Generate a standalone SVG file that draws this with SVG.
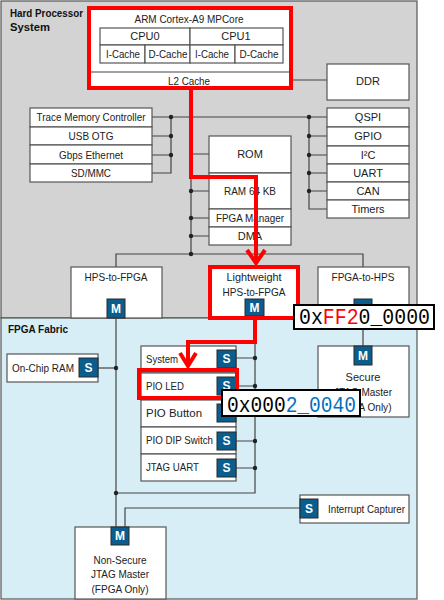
<svg xmlns="http://www.w3.org/2000/svg" width="444" height="600" viewBox="0 0 444 600">
<style>
.box{fill:#fff;stroke:#555;stroke-width:1.2}
.t{font-family:"Liberation Sans",Arial,sans-serif;font-size:11px;fill:#222}
.c{text-anchor:middle}
.b{font-weight:bold;fill:#111}
.ms{fill:#0a5d8d;stroke:#2a2a2a;stroke-width:1}
.mt{font-family:"Liberation Sans",Arial,sans-serif;font-size:12px;font-weight:bold;fill:#fff;text-anchor:middle}
.ln{stroke:#444;stroke-width:1.2;fill:none}
.red{stroke:#f00;stroke-width:4;fill:none}
.dot{fill:#222}
.big{font-family:"Liberation Mono","DejaVu Sans Mono",monospace;font-size:22px;fill:#000}
</style>
<!-- regions -->
<rect x="1" y="1" width="416" height="317" fill="#d3d3d3" stroke="#555" stroke-width="1.2"/>
<rect x="1" y="318" width="416" height="281" fill="#d8eef6" stroke="#555" stroke-width="1.2"/>
<text class="t b" x="10" y="17" textLength="73" lengthAdjust="spacingAndGlyphs">Hard Processor</text>
<text class="t b" x="10" y="31" textLength="40" lengthAdjust="spacingAndGlyphs">System</text>
<text class="t b" x="8" y="333" textLength="60" lengthAdjust="spacingAndGlyphs">FPGA Fabric</text>

<g id="connectors">
<path class="ln" d="M290,80 H327"/>
<path class="ln" d="M152,117 H327"/>
<path class="ln" d="M152,136 H171 M152,155 H171 M152,173 H171 V117"/>
<path class="ln" d="M327,136 H309 M327,155 H309 M327,173 H309 M327,191 H309 M327,209 H309 V117"/>
<path class="ln" d="M191,117 V254 M191,154 H209 M191,191 H209 M191,218 H209 M191,236 H209"/>
<path class="ln" d="M116,267 V254 H363 V267"/>
<path class="ln" d="M363,318 V346"/>
<path class="ln" d="M116,318 V527"/>
<path class="ln" d="M98,368 H116"/>
<path class="ln" d="M255,318 V493 H116"/>
<path class="ln" d="M236,358 H255 M236,386 H255 M236,413 H255 M236,441 H255 M236,468 H255"/>
<path class="ln" d="M125,527 V508 H300"/>
<circle class="dot" cx="171" cy="117" r="2.2"/>
<circle class="dot" cx="171" cy="136" r="2.2"/>
<circle class="dot" cx="171" cy="155" r="2.2"/>
<circle class="dot" cx="191" cy="117" r="2.2"/>
<circle class="dot" cx="309" cy="117" r="2.2"/>
<circle class="dot" cx="309" cy="136" r="2.2"/>
<circle class="dot" cx="309" cy="155" r="2.2"/>
<circle class="dot" cx="309" cy="173" r="2.2"/>
<circle class="dot" cx="309" cy="191" r="2.2"/>
<circle class="dot" cx="191" cy="191" r="2.2"/>
<circle class="dot" cx="191" cy="218" r="2.2"/>
<circle class="dot" cx="191" cy="236" r="2.2"/>
<circle class="dot" cx="191" cy="254" r="2.2"/>
<circle class="dot" cx="116" cy="368" r="2.2"/>
<circle class="dot" cx="116" cy="493" r="2.2"/>
<circle class="dot" cx="255" cy="358" r="2.2"/>
<circle class="dot" cx="255" cy="386" r="2.2"/>
<circle class="dot" cx="255" cy="413" r="2.2"/>
<circle class="dot" cx="255" cy="441" r="2.2"/>
<circle class="dot" cx="255" cy="468" r="2.2"/>
</g>

<g id="arm">
<rect class="box" x="89" y="8" width="202" height="80"/>
<text class="t c" x="189" y="23" textLength="109" lengthAdjust="spacingAndGlyphs">ARM Cortex-A9 MPCore</text>
<rect class="box" x="100" y="28" width="90" height="17"/>
<rect class="box" x="190" y="28" width="93" height="17"/>
<rect class="box" x="100" y="45" width="45" height="18"/>
<rect class="box" x="145" y="45" width="45" height="18"/>
<rect class="box" x="190" y="45" width="45" height="18"/>
<rect class="box" x="235" y="45" width="48" height="18"/>
<text class="t c" x="145" y="40">CPU0</text>
<text class="t c" x="236" y="40">CPU1</text>
<text class="t c" x="123" y="58" textLength="34" lengthAdjust="spacingAndGlyphs">I-Cache</text>
<text class="t c" x="168" y="58" textLength="39" lengthAdjust="spacingAndGlyphs">D-Cache</text>
<text class="t c" x="212" y="58" textLength="34" lengthAdjust="spacingAndGlyphs">I-Cache</text>
<text class="t c" x="259" y="58" textLength="39" lengthAdjust="spacingAndGlyphs">D-Cache</text>
<path class="ln" d="M90,72 H290" stroke="#777"/>
<text class="t c" x="189" y="85" textLength="42" lengthAdjust="spacingAndGlyphs">L2 Cache</text>
</g>

<g id="ddr">
<rect class="box" x="327" y="64" width="82" height="36"/>
<text class="t c" x="368" y="85">DDR</text>
</g>

<g id="left-periph">
<rect class="box" x="30" y="108" width="122" height="19"/>
<rect class="box" x="30" y="127" width="122" height="18"/>
<rect class="box" x="30" y="145" width="122" height="19"/>
<rect class="box" x="30" y="164" width="122" height="18"/>
<text class="t c" x="91" y="121" textLength="109" lengthAdjust="spacingAndGlyphs">Trace Memory Controller</text>
<text class="t c" x="91" y="140" textLength="45" lengthAdjust="spacingAndGlyphs">USB OTG</text>
<text class="t c" x="91" y="159" textLength="64" lengthAdjust="spacingAndGlyphs">Gbps Ethernet</text>
<text class="t c" x="91" y="177" textLength="40" lengthAdjust="spacingAndGlyphs">SD/MMC</text>
</g>

<g id="right-periph">
<rect class="box" x="327" y="108" width="82" height="19"/>
<rect class="box" x="327" y="127" width="82" height="19"/>
<rect class="box" x="327" y="146" width="82" height="18"/>
<rect class="box" x="327" y="164" width="82" height="18"/>
<rect class="box" x="327" y="182" width="82" height="18"/>
<rect class="box" x="327" y="200" width="82" height="18"/>
<text class="t c" x="368" y="121">QSPI</text>
<text class="t c" x="368" y="140">GPIO</text>
<text class="t c" x="368" y="159">I²C</text>
<text class="t c" x="368" y="177">UART</text>
<text class="t c" x="368" y="195">CAN</text>
<text class="t c" x="368" y="213">Timers</text>
</g>

<g id="onchip">
<rect class="box" x="209" y="136" width="82" height="37"/>
<rect class="box" x="209" y="173" width="82" height="36"/>
<rect class="box" x="209" y="209" width="82" height="18"/>
<rect class="box" x="209" y="227" width="82" height="18"/>
<text class="t c" x="250" y="158">ROM</text>
<text class="t c" x="250" y="195" textLength="52" lengthAdjust="spacingAndGlyphs">RAM 64 KB</text>
<text class="t c" x="250" y="222" textLength="68" lengthAdjust="spacingAndGlyphs">FPGA Manager</text>
<text class="t c" x="250" y="240">DMA</text>
</g>

<g id="hps2fpga">
<rect class="box" x="71" y="267" width="91" height="51"/>
<text class="t c" x="116" y="281" textLength="63" lengthAdjust="spacingAndGlyphs">HPS-to-FPGA</text>
<rect class="ms" x="107" y="299" width="18" height="19"/>
<text class="mt" x="116" y="313">M</text>
</g>

<g id="lw">
<rect class="box" x="210" y="267" width="88" height="51"/>
<text class="t c" x="254" y="281" textLength="55" lengthAdjust="spacingAndGlyphs">Lightweight</text>
<text class="t c" x="254" y="296" textLength="63" lengthAdjust="spacingAndGlyphs">HPS-to-FPGA</text>
<rect class="ms" x="245" y="299" width="19" height="17"/>
<text class="mt" x="254.5" y="312">M</text>
</g>

<g id="fpga2hps">
<rect class="box" x="318" y="267" width="91" height="51"/>
<text class="t c" x="363" y="281" textLength="63" lengthAdjust="spacingAndGlyphs">FPGA-to-HPS</text>
<rect class="ms" x="354" y="299" width="18" height="19"/>
</g>

<g id="secure">
<rect class="box" x="318" y="346" width="91" height="71"/>
<rect class="ms" x="354" y="346" width="18" height="19"/>
<text class="mt" x="363" y="360">M</text>
<text class="t c" x="363" y="381">Secure</text>
<text class="t c" x="363" y="396" textLength="58" lengthAdjust="spacingAndGlyphs">JTAG Master</text>
<text class="t c" x="363" y="411" textLength="57" lengthAdjust="spacingAndGlyphs">(FPGA Only)</text>
</g>

<g id="onchipram">
<rect class="box" x="7" y="354" width="91" height="28"/>
<text class="t" x="12" y="372" textLength="62" lengthAdjust="spacingAndGlyphs">On-Chip RAM</text>
<rect class="ms" x="79" y="358" width="19" height="19"/>
<text class="mt" x="88.5" y="372">S</text>
</g>

<g id="fpga-periph">
<rect class="box" x="141" y="346" width="95" height="27"/>
<rect class="box" x="141" y="373" width="95" height="27"/>
<rect class="box" x="141" y="400" width="95" height="27"/>
<rect class="box" x="141" y="427" width="95" height="27"/>
<rect class="box" x="141" y="454" width="95" height="27"/>
<text class="t" x="146" y="363" textLength="32" lengthAdjust="spacingAndGlyphs">System</text>
<text class="t" x="146" y="390" textLength="38" lengthAdjust="spacingAndGlyphs">PIO LED</text>
<text class="t" x="146" y="417" textLength="56" lengthAdjust="spacingAndGlyphs">PIO Button</text>
<text class="t" x="146" y="444" textLength="67" lengthAdjust="spacingAndGlyphs">PIO DIP Switch</text>
<text class="t" x="146" y="471" textLength="53" lengthAdjust="spacingAndGlyphs">JTAG UART</text>
<rect class="ms" x="217" y="350" width="19" height="18"/>
<rect class="ms" x="217" y="377" width="19" height="18"/>
<rect class="ms" x="217" y="404" width="19" height="18"/>
<rect class="ms" x="217" y="432" width="19" height="18"/>
<rect class="ms" x="217" y="459" width="19" height="18"/>
<text class="mt" x="226.5" y="363">S</text>
<text class="mt" x="226.5" y="390">S</text>
<text class="mt" x="226.5" y="445">S</text>
<text class="mt" x="226.5" y="472">S</text>
</g>

<g id="irq">
<rect class="box" x="300" y="495" width="109" height="28"/>
<rect class="ms" x="300" y="499" width="18" height="19"/>
<text class="mt" x="309" y="513">S</text>
<text class="t" x="328" y="513" textLength="77" lengthAdjust="spacingAndGlyphs">Interrupt Capturer</text>
</g>

<g id="nonsecure">
<rect class="box" x="75" y="527" width="91" height="72"/>
<rect class="ms" x="111" y="527" width="18" height="18"/>
<text class="mt" x="120" y="540">M</text>
<text class="t c" x="120" y="564" textLength="53" lengthAdjust="spacingAndGlyphs">Non-Secure</text>
<text class="t c" x="120" y="578" textLength="58" lengthAdjust="spacingAndGlyphs">JTAG Master</text>
<text class="t c" x="120" y="593" textLength="57" lengthAdjust="spacingAndGlyphs">(FPGA Only)</text>
</g>

<g id="highlight">
<rect class="red" x="89" y="8" width="202" height="80"/>
<rect class="red" x="210" y="267" width="88" height="51"/>
<rect class="red" x="139" y="370" width="98" height="28"/>
<path class="red" d="M191,90 V177 H256 V262"/>
<path class="red" d="M247,250 L256,263 L265,250"/>
<path class="red" d="M255,320 V342 H188 V365"/>
<path class="red" d="M180,353 L188,366 L196,353"/>
</g>

<g id="addr1">
<rect x="294" y="305" width="140" height="24" fill="#fff" stroke="#000" stroke-width="2"/>
<text class="big" x="299" y="324" textLength="131" lengthAdjust="spacingAndGlyphs">0x<tspan fill="#f00">FF2</tspan>0_0000</text>
</g>
<g id="addr2">
<rect x="222" y="390" width="138" height="26" fill="#fff" stroke="#000" stroke-width="2"/>
<text class="big" x="227" y="412" textLength="129" lengthAdjust="spacingAndGlyphs">0x000<tspan fill="#0070c0">2_0040</tspan></text>
</g>
</svg>
